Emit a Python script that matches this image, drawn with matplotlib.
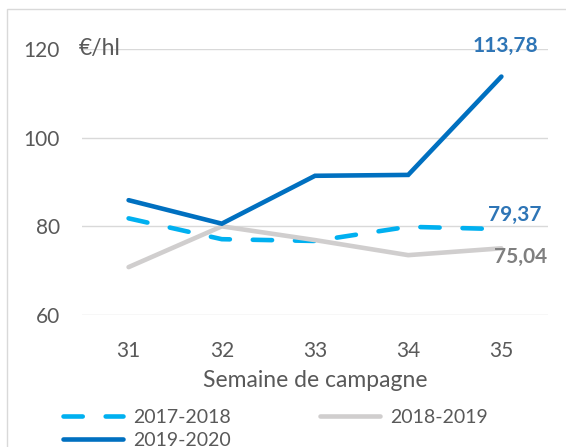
import matplotlib
matplotlib.use("Agg")
import matplotlib.pyplot as plt
from matplotlib.patches import Rectangle

plt.rcParams["font.family"] = ["Lato", "DejaVu Sans"]

weeks = [31, 32, 33, 34, 35]
s_2017 = [81.8, 77.1, 76.7, 79.9, 79.37]
s_2018 = [70.8, 80.0, 76.9, 73.5, 75.04]
s_2019 = [85.9, 80.6, 91.4, 91.6, 113.78]
yticks = [60, 80, 100, 120]

c_2017 = "#00B0F0"
c_2018 = "#D0CECE"
c_2019 = "#0070C0"
txt = "#595959"

fig = plt.figure(figsize=(5.66, 4.47), dpi=100)
ax = fig.add_axes([82 / 566, 1 - 315 / 447, (548 - 82) / 566, (315 - 49) / 447])

# outer chart border
fig.patches.append(Rectangle((7 / 566, -0.01), 1.0, 1 - 9 / 447 + 0.01,
                             transform=fig.transFigure, fill=False,
                             edgecolor="#D9D9D9", linewidth=1.0))

for y in yticks:
    ax.axhline(y, color="#D9D9D9", linewidth=1.0, zorder=0)

l17, = ax.plot(weeks, s_2017, color=c_2017, linewidth=3.3, dashes=(4.2, 5.0),
               dash_capstyle="round", label="2017-2018", clip_on=False)
l18, = ax.plot(weeks, s_2018, color=c_2018, linewidth=3.3, solid_capstyle="round",
               label="2018-2019", clip_on=False)
l19, = ax.plot(weeks, s_2019, color=c_2019, linewidth=3.3, solid_capstyle="round",
               solid_joinstyle="miter", label="2019-2020", clip_on=False)

ax.set_xlim(30.5, 35.5)
ax.set_ylim(60, 120)
ax.set_xticks(weeks)
ax.set_yticks(yticks)
ax.tick_params(length=0, labelsize=15, colors=txt)
ax.tick_params(axis="x", pad=19)
ax.tick_params(axis="y", pad=16)
for sp in ax.spines.values():
    sp.set_visible(False)

ax.set_xlabel("Semaine de campagne", fontsize=16.5, color=txt, labelpad=6)

ax.text(79 / 566, 1 - 49 / 447, "€/hl", transform=fig.transFigure, fontsize=16.5,
        color=txt, va="center", ha="left")

ax.annotate("113,78", (weeks[-1], s_2019[-1]), xytext=(3, 22), textcoords="offset points",
            ha="center", va="center", fontsize=15, fontweight="bold", color="#2E75B6")
ax.annotate("79,37", (weeks[-1], s_2017[-1]), xytext=(9.5, 10), textcoords="offset points",
            ha="center", va="center", fontsize=15, fontweight="bold", color="#2E75B6")
ax.annotate("75,04", (weeks[-1], s_2018[-1]), xytext=(14, -6.5), textcoords="offset points",
            ha="center", va="center", fontsize=15, fontweight="bold", color="#7F7F7F")

# column-major fill: 2017 / 2019 in first column, 2018 in second
fig.legend([l17, l19, l18], ["2017-2018", "2019-2020", "2018-2019"], loc="upper left",
           bbox_to_anchor=(53 / 566, 1 - 399 / 447), ncol=2, frameon=False,
           fontsize=14, labelcolor=txt, handlelength=3.1, handletextpad=0.5,
           columnspacing=4.6, labelspacing=0.3, borderpad=0)

fig.savefig("out.png", dpi=100)
